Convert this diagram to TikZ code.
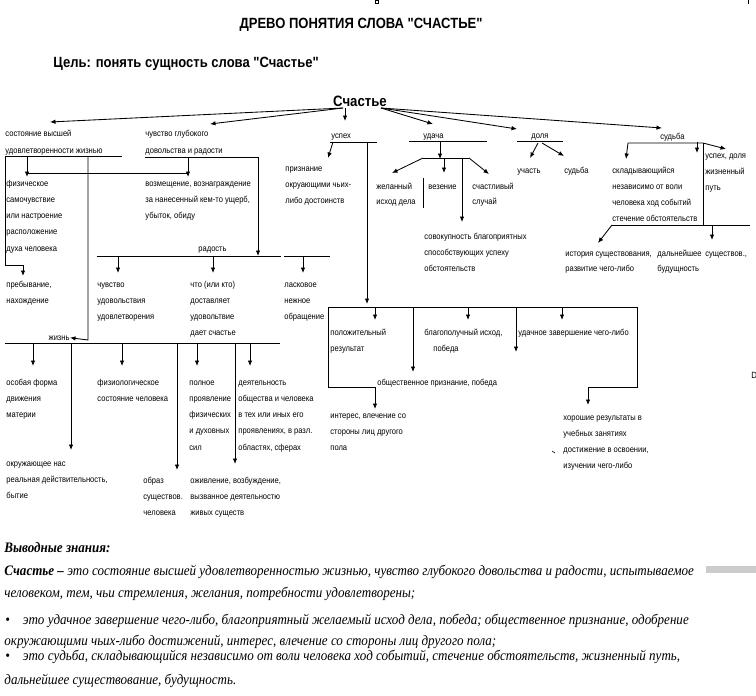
\documentclass[tikz,border=0pt]{standalone}
\usepackage{fontspec}
\setmainfont{Liberation Sans}
\newfontfamily\nrw[FakeStretch=0.88]{Liberation Sans}
\newfontfamily\srf[FakeStretch=0.9]{Liberation Serif}
\usetikzlibrary{arrows.meta}

% lines of a text block, baseline at the first line
\newcommand{\blk}[1]{\begin{tabular}[t]{@{}l@{}}#1\end{tabular}}

\tikzset{
  txt/.style={font=\nrw\fontsize{8.6}{16.3}\selectfont, anchor=base west, inner sep=0pt},
  head/.style={font=\nrw\bfseries\fontsize{14.8}{16}\selectfont, anchor=base, inner sep=0pt},
  outro/.style={font=\srf\itshape\fontsize{14.5}{16}\selectfont, anchor=base west, inner sep=0pt},
}

\begin{document}
\begin{tikzpicture}[x=1pt, y=-1pt, >={Latex[length=5.5pt,width=4.5pt]}, line width=0.85pt]
  \useasboundingbox (0,0) rectangle (756,696);
  \clip (0,0) rectangle (756,696);

  % headings
  \node[head] (title) at (361,28) {ДРЕВО ПОНЯТИЯ СЛОВА "СЧАСТЬЕ"};
  \node[head, anchor=base west] (goal) at (53,67) {Цель: понять сущность слова "Счастье"};
  \node[head, font=\nrw\bfseries\fontsize{15}{16}\selectfont] (root) at (360,106) {Счастье};

  % first level
  \node[txt] (sost) at (5,136) {\blk{состояние высшей\\[1pt]удовлетворенности жизнью}};
  \node[txt] (chuv) at (145,136) {\blk{чувство глубокого\\[1pt]довольства и радости}};
  \node[txt] (usp) at (331,138) {успех};
  \node[txt] (udacha) at (423,138) {удача};
  \node[txt] (dolya) at (531,138) {доля};
  \node[txt] (sudba) at (660,139) {судьба};

  % left branch
  \node[txt] (fiz) at (6,186) {\blk{физическое\\самочувствие\\или настроение\\расположение\\духа человека}};
  \node[txt] (preb) at (6,287) {\blk{пребывание,\\нахождение}};
  \node[txt] (vozm) at (145,186) {\blk{возмещение, вознаграждение\\за нанесенный кем-то ущерб,\\убыток, обиду}};
  \node[txt] (rad) at (198,251) {радость};
  \node[txt] (udov) at (97,287) {\blk{чувство\\удовольствия\\удовлетворения}};
  \node[txt] (chto) at (190,287) {\blk{что (или кто)\\доставляет\\удовольтвие\\дает счастье}};
  \node[txt] (lask) at (284,287) {\blk{ласковое\\нежное\\обращение}};
  \node[txt, anchor=base east] (zhizn) at (70,340) {жизнь};
  \node[txt] (osob) at (6,385) {\blk{особая форма\\движения\\материи}};
  \node[txt] (fiziol) at (97,385) {\blk{физиологическое\\состояние человека}};
  \node[txt] (poln) at (189,385) {\blk{полное\\проявление\\физических\\и духовных\\сил}};
  \node[txt] (deyat) at (238,385) {\blk{деятельность\\общества и человека\\в тех или иных его\\проявлениях, в разл.\\областях, сферах}};
  \node[txt] (okr) at (6,466) {\blk{окружающее нас\\реальная действительность,\\бытие}};
  \node[txt] (obraz) at (143,483) {\blk{образ\\существов.\\человека}};
  \node[txt] (ozhiv) at (190,483) {\blk{оживление, возбуждение,\\вызванное деятельностю\\живых существ}};

  % успех
  \node[txt] (priz) at (285,171) {\blk{признание\\окруающими чьих-\\либо достоинств}};
  \node[txt] (polozh) at (330,335) {\blk{положительный\\результат}};
  \node[txt] (blag) at (424,335) {\blk{благополучный исход,\\\hspace*{9pt}победа}};
  \node[txt] (zaversh) at (518,335) {удачное завершение чего-либо};
  \node[txt] (obshch) at (377,385) {общественное признание, победа};
  \node[txt] (inter) at (330,418) {\blk{интерес, влечение со\\стороны лиц другого\\пола}};
  \node[txt] (khor) at (563,420) {\blk{хорошие результаты в\\учебных занятиях\\достижение в освоении,\\изучении чего-либо}};

  % удача
  \node[txt] (zhel) at (376,189) {\blk{желанный\\[-1pt]исход дела}};
  \node[txt] (vez) at (428,189) {везение};
  \node[txt] (sluch) at (472,189) {\blk{счастливый\\[-1pt]случай}};
  \node[txt] (sovok) at (424,239) {\blk{совокупность благоприятных\\способствующих успеху\\обстоятельств}};

  % доля
  \node[txt] (uchast) at (517,173) {участь};
  \node[txt] (sudba2) at (564,173) {судьба};

  % судьба
  \node[txt] (uspd) at (705,158) {\blk{успех, доля\\жизненный\\путь}};
  \node[txt] (sklad) at (612,173) {\blk{складывающийся\\независимо от воли\\человека ход событий\\стечение обстоятельств}};
  \node[txt] (istor) at (565,256) {\blk{история существования,\\[-1pt]развитие чего-либо}};
  \node[txt] (daln) at (657,256) {\blk{дальнейшее\\[-1pt]будущность}};
  \node[txt] (sushch) at (705,256) {существов.,};

  % points of the tree
  \coordinate (rl) at (343,108);
  \coordinate (rd) at (345,108);
  \coordinate (rr) at (381,108);
  \coordinate (sostU) at (122,156);
  \coordinate (chuvL) at (145,157);
  \coordinate (chuvR) at (258,157);
  \coordinate (radL) at (97,256);
  \coordinate (radR) at (330,256);
  \coordinate (zhL) at (5,343);
  \coordinate (zhR) at (280,343);
  \coordinate (boxTL) at (328,307);
  \coordinate (boxTR) at (637,307);
  \coordinate (sudL) at (628,143);
  \coordinate (sudV) at (703,143);
  \coordinate (sudB) at (612,225);

  % root arrows
  \draw[->] (rl) -- (50,122);
  \draw[->] (rl) -- (210,124);
  \draw[->] (rd) -- (345,121);
  \draw[->] (rr) -- (433,124);
  \draw[->] (rr) -- (517,129);
  \draw[->] (rr) -- (662,128);

  % left branch
  \draw (5,156) -- (sostU);
  \draw[->] (5,156) -- (5,265) -- (23,265) -- (23,276);
  \draw[->] (88,156) -- (88,340) -- (zhizn.east);
  \draw[->] (27,156) -- (27,177);
  \draw[->] (188,157) -- (188,177);
  \draw (27,173) -- (188,173);
  \draw (chuvL) -- (chuvR);
  \draw[->] (chuvR) -- (258,256);
  \draw (radL) -- (281,256) (284,256) -- (radR);
  \foreach \x in {118,213,303}
    \draw[->] (\x,256) -- (\x,273);
  \draw (zhL) -- (zhR);
  \foreach \x in {33,122,197,250}
    \draw[->] (\x,343) -- (\x,366);
  \draw[->] (71,343) -- (71,450);
  \draw[->] (177,343) -- (177,470);
  \draw[->] (235,343) -- (235,464);

  % успех
  \draw (330,142) -- (377,142);
  \draw[->] (333,142) -- (328,158);
  \draw[->] (367,142) -- (367,304);
  \draw (boxTL) -- (boxTR);
  \draw[->] (boxTL) -- (328,387) -- (375,387) -- (375,409);
  \draw[->] (boxTR) -- (637,387) -- (588,387) -- (588,405);
  \foreach \x in {375,468,562}
    \draw[->] (\x,307) -- (\x,320);
  \draw[->] (413,307) -- (413,372);
  \draw[->] (516,307) -- (516,352);

  % удача
  \draw (409,141) -- (487,141);
  \draw[->] (440,141) -- (440,159);
  \draw (423,158) -- (469,158);
  \draw[->] (423,158) -- (392,173);
  \draw[->] (444,158) -- (444,173);
  \draw[->] (469,158) -- (489,174);
  \draw[->] (462,158) -- (462,222);
  \draw (423,178) -- (423,208);

  % доля
  \draw (517,141) -- (563,141);
  \draw[->] (538,143) -- (530,158);
  \draw[->] (542,143) -- (564,156);

  % судьба
  \draw[->] (sudL) -- (sudV) -- (726,149);
  \draw[->] (sudL) -- (626,159);
  \draw[->] (697,142) -- (697,153);
  \draw (sudV) -- (703,225);
  \draw (sudB) -- (750,225);
  \draw[->] (sudB) -- (598,243);
  \draw[->] (712,225) -- (712,240);

  % conclusions
  \node[outro, font=\srf\bfseries\itshape\fontsize{14.5}{16}\selectfont] (vyv) at (4,552) {Выводные знания:};
  \node[outro] (def1) at (4,575) {{\bfseries Счастье –} это состояние высшей удовлетворенностью жизнью, чувство глубокого довольства и радости, испытываемое};
  \node[outro] (def2) at (4,597) {человеком, тем, чьи стремления, желания, потребности удовлетворены;};
  \node[outro] (b1) at (5,624) {\textbullet\hspace{13pt}это удачное завершение чего-либо, благоприятный желаемый исход дела, победа; общественное признание, одобрение};
  \node[outro] (b1b) at (4,645) {окружающими чьих-либо достижений, интерес, влечение со стороны лиц другого пола;};
  \node[outro] (b2) at (5,660) {\textbullet\hspace{13pt}это судьба, складывающийся независимо от воли человека ход событий, стечение обстоятельств, жизненный путь,};
  \node[outro] (b2b) at (4,684) {дальнейшее существование, будущность.};

  % scan marks
  \draw[line width=0.5pt] (375,0) rectangle (378,3);
  \draw[line width=0.5pt] (748,0) -- (748,4);
  \draw[line width=0.6pt] (552,451) -- (555,453);
  \fill[gray!40] (706,566) rectangle (756,573);
  \node[txt, font=\nrw\fontsize{9}{10}\selectfont] (mark) at (751,378) {D};
\end{tikzpicture}
\end{document}
